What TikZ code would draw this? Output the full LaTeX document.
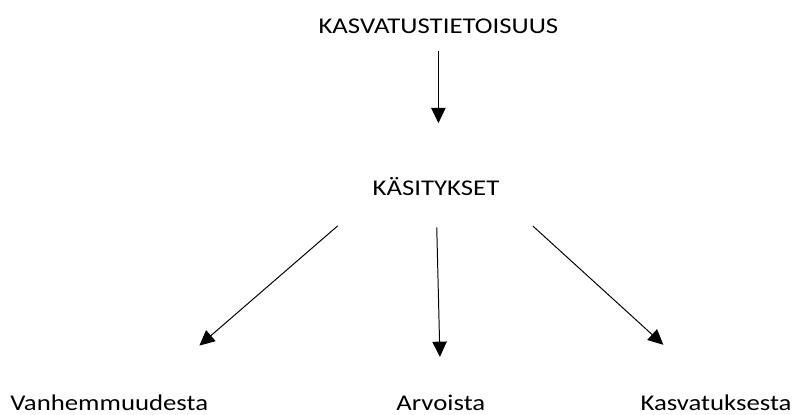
\documentclass[tikz,border=0pt]{standalone}
\usepackage{fontspec}
\setmainfont{Carlito}
\newfontfamily\lblfont[FakeStretch=1.19]{Carlito}
\usetikzlibrary{arrows.meta}

\begin{document}
\begin{tikzpicture}[
    lbl/.style={font=\lblfont\fontsize{16}{19}\selectfont, inner sep=1pt, anchor=base},
    arr/.style={black, line width=0.7pt, -{Triangle[length=0.38cm, width=0.36cm]}}]
\useasboundingbox (0,0) rectangle (19.825,10.35);

% NODES
  \node[lbl] (top) at (10.96, 9.52) {KASVATUSTIETOISUUS};
  \node[lbl] (mid) at (10.9, 5.47) {KÄSITYKSET};
  \node[lbl] (left) at (2.73, 0.1) {Vanhemmuudesta};
  \node[lbl] (down) at (11.02, 0.1) {Arvoista};
  \node[lbl] (right) at (17.9, 0.1) {Kasvatuksesta};

% ARROWS
  \draw[arr, shorten <=0.4cm, shorten >=1.31cm] (top.south) -- (top.south |- mid.north);
  \draw[arr, shorten <=1.1cm, shorten >=1.8cm] (mid.south west) -- (left.15);
  \draw[arr, shorten <=0.76cm, shorten >=0.9cm] (mid.south) -- (down.north);
  \draw[arr, shorten <=1.08cm, shorten >=1.78cm] (mid.south east) -- (right.north);

\end{tikzpicture}
\end{document}
